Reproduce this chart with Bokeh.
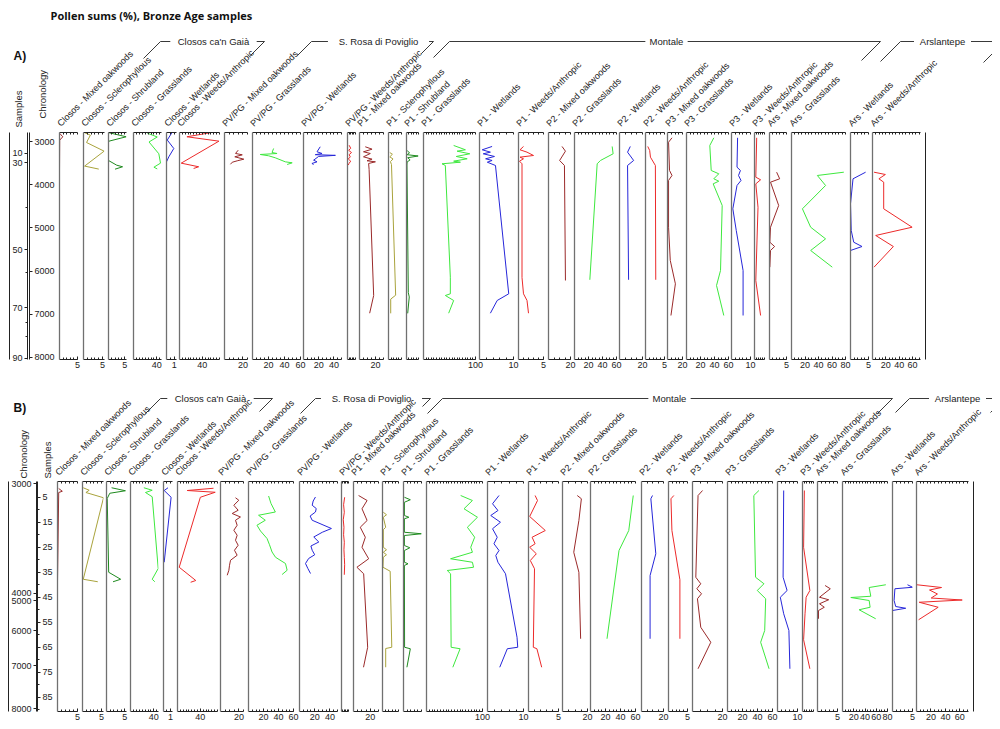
from bokeh.plotting import figure
from bokeh.models import Range1d, LinearAxis, FixedTicker, ColumnDataSource
from bokeh.layouts import column, row
from bokeh.embed import file_html
from bokeh.resources import INLINE
from bokeh.core.properties import value
import math

FONT = "Liberation Sans"
TITLE = "Pollen sums (%), Bronze Age samples"

TAXA = [
    "Closos - Mixed oakwoods", "Closos - Sclerophyllous", "Closos - Shrubland",
    "Closos - Grasslands", "Closos - Wetlands", "Closos - Weeds/Anthropic",
    "PV/PG - Mixed oakwoods", "PV/PG - Grasslands", "PV/PG - Wetlands", "PV/PG - Weeds/Anthropic",
    "P1 - Mixed oakwoods", "P1 - Sclerophyllous", "P1 - Shrubland", "P1 - Grasslands",
    "P1 - Wetlands", "P1 - Weeds/Anthropic",
    "P2 - Mixed oakwoods", "P2 - Grasslands", "P2 - Wetlands", "P2 - Weeds/Anthropic",
    "P3 - Mixed oakwoods", "P3 - Grasslands", "P3 - Wetlands", "P3 - Weeds/Anthropic",
    "Ars - Mixed oakwoods", "Ars - Grasslands", "Ars - Wetlands", "Ars - Weeds/Anthropic",
]
GROUPS = ["Closos ca'n Gaià", "S. Rosa di Poviglio", "Montale", "Arslantepe"]

# x-axis extent (%) and labelled ticks of every column
XMAX = [5, 5.5, 5.5, 48, 1.3, 70, 25, 60, 50, 10, 30, 10, 10, 100, 10, 5,
        20, 60, 20, 5, 20, 60, 10, 10, 5, 80, 5, 72]
XTICKS = [[5], [5], [5], [40], [1], [40], [20], [20, 40, 60], [20, 40], [], [20], [], [],
          [100], [10], [5], [20], [20, 40, 60], [20], [5], [20], [20, 40, 60], [10], [],
          [5], [20, 40, 60, 80], [5], [20, 40, 60]]
MINOR_STEP = [1, 1, 1, 5, 0.5, 5, 5, 5, 5, 2, 5, 2, 2, 5, 2, 1, 5, 5, 5, 1, 5, 5, 2, 2, 1, 5, 1, 5]

COLORS = {"Mixed oakwoods": "#9a2a2a", "Sclerophyllous": "#a9a33c", "Shrubland": "#1f8a1f",
          "Grasslands": "#3ee83e", "Wetlands": "#2626d9", "Weeds/Anthropic": "#ec2a2a"}

# ---------------- Panel A : values against chronology (years) ----------------
A_CLOSOS_MO_Y = [2808, 2885, 2963, 3640]
A_CLOSOS_MO_X = [0.1, 0.9, 0.05, 0.0]
A_CLOSOS_SC_Y = [2785, 2847, 3017, 3218, 3564, 3634]
A_CLOSOS_SC_X = [0.2, 1.8, 0.8, 5.4, 0.3, 4.0]
A_CLOSOS_SH_Y = [2790, 2884, 2986, 3000, 3434, 3543, 3580, 3636]
A_CLOSOS_SH_X = [0.15, 5.4, 0.15, 0.0, 0.0, 2.5, 4.3, 2.0]
A_CLOSOS_GR_Y = [2800, 2889, 3005, 3278, 3496, 3590, 3630]
A_CLOSOS_GR_X = [23.6, 40.7, 26.6, 43.4, 46.3, 35.0, 40.7]
A_CLOSOS_WE_Y = [2790, 2960, 3156, 3350, 3465]
A_CLOSOS_WE_X = [0.7, 0.1, 0.95, 0.3, 0.0]
A_CLOSOS_AN_Y = [2790, 2884, 2986, 3496, 3580, 3620]
A_CLOSOS_AN_X = [54, 13, 69, 3, 33.5, 24.7]

A_PVPG_MO_Y = [3195, 3271, 3303, 3349, 3404, 3442, 3475, 3522]
A_PVPG_MO_X = [14.9, 12.0, 19.3, 11.2, 21.0, 13.8, 8.4, 6.5]
A_PVPG_GR_Y = [3156, 3249, 3272, 3295, 3325, 3372, 3465, 3488, 3527]
A_PVPG_GR_X = [26.4, 24.4, 30.7, 9.7, 20.1, 28.5, 41.0, 49.6, 43.3]
A_PVPG_WE_Y = [3116, 3232, 3272, 3300, 3315, 3340, 3427, 3465, 3504, 3527]
A_PVPG_WE_X = [22, 17.8, 24.4, 15.5, 42, 19.9, 13.3, 17.8, 11.1, 13.3]
A_PVPG_AN_Y = [3080, 3150, 3200, 3250, 3300, 3350, 3400, 3450, 3500, 3540]
A_PVPG_AN_X = [2, 4, 1.5, 5, 2, 3.5, 1, 4, 2, 1]

A_P1_MO_Y = [3116, 3172, 3232, 3272, 3349, 3404, 3441, 3465, 3504, 3640, 6567, 6977]
A_P1_MO_X = [7.2, 15.7, 5.0, 13.5, 5.0, 15.7, 9.4, 19.9, 11.4, 12.0, 17.7, 12.7]
A_P1_SC_Y = [3250, 3290, 3350, 3400, 3460, 3530, 6560, 6650, 6980]
A_P1_SC_X = [1.0, 3.0, 1.0, 3.5, 1.5, 2.3, 5.5, 1.7, 1.7]
A_P1_SH_Y = [3200, 3260, 3300, 3330, 3370, 3420, 3470, 3540, 6500, 6600, 6980]
A_P1_SH_X = [0.5, 2.5, 0.5, 9.8, 1.0, 3.0, 0.5, 0.4, 1.5, 2.3, 1.0]
A_P1_GR_Y = [3086, 3186, 3218, 3279, 3341, 3395, 3450, 3474, 3511, 3550, 6142, 6527, 6566, 6682, 6977]
A_P1_GR_X = [58, 80.6, 64.6, 89, 63, 84, 58, 71, 35.6, 42, 51.6, 51.6, 42, 58, 48.4]
A_P1_WE_Y = [3109, 3186, 3241, 3279, 3341, 3395, 3434, 3474, 3550, 6527, 6682, 6977]
A_P1_WE_X = [3.7, 0.8, 3.2, 1.1, 4.4, 1.8, 3.7, 2.3, 4.7, 8.6, 5.2, 3.2]
A_P1_AN_Y = [3109, 3186, 3241, 3318, 3357, 3395, 3450, 3511, 6150, 6527, 6682, 6977]
A_P1_AN_X = [1.0, 0.3, 1.7, 3.0, 0.3, 1.0, 0.2, 0.7, 0.7, 1.0, 1.7, 2.0]

A_P2_MO_Y = [3109, 3218, 3434, 3550, 6218]
A_P2_MO_X = [12.3, 15.4, 10.1, 14.5, 15.4]
A_P2_GR_Y = [3109, 3279, 3434, 3511, 6202]
A_P2_GR_X = [53.8, 55.2, 37.1, 32.4, 21.9]
A_P2_WE_Y = [3109, 3241, 3434, 3550, 6202]
A_P2_WE_X = [9.4, 7.0, 12.3, 7.0, 7.9]
A_P2_AN_Y = [3109, 3202, 3357, 3550, 6202]
A_P2_AN_X = [0.6, 1.1, 1.3, 2.6, 2.7]

A_P3_MO_Y = [2908, 3010, 3666, 3782, 3898, 4982, 5754, 6295, 7030]
A_P3_MO_X = [6.0, 1.4, 2.7, 6.0, 1.4, 1.4, 3.7, 10.5, 4.6]
A_P3_GR_Y = [2908, 3086, 3666, 3743, 3859, 3915, 3976, 4478, 5986, 6334, 7030]
A_P3_GR_X = [39, 33.3, 35.3, 46.1, 39, 46.1, 38.1, 51, 48.6, 42.9, 53.3]
A_P3_WE_Y = [2908, 3590, 3666, 3782, 3898, 4014, 4555, 5058, 5986, 7030]
A_P3_WE_X = [3.2, 2.9, 4.7, 3.7, 5.0, 2.9, 0.7, 2.5, 6.1, 6.1]
A_P3_AN_Y = [2908, 3822, 3882, 3976, 4518, 6218, 7030]
A_P3_AN_X = [2.2, 1.3, 6.1, 1.3, 3.5, 1.3, 6.1]

A_ARS_MO_Y = [3706, 3859, 3937, 4478, 4982, 5330, 5430, 5522, 5909]
A_ARS_MO_X = [2.1, 3.0, 0.3, 2.7, 0.3, 0.1, 1.5, 0.3, 0.1]
A_ARS_GR_Y = [3706, 3782, 4014, 4555, 4982, 5252, 5522, 5909]
A_ARS_GR_X = [77.5, 38.3, 50.5, 16.2, 28.4, 50.5, 28.4, 60.4]
A_ARS_WE_Y = [3706, 3859, 4439, 5058, 5330, 5430, 5522]
A_ARS_WE_X = [4.2, 0.7, 0.0, 0.2, 0.9, 3.2, 0.0]
A_ARS_AN_Y = [3706, 3759, 3859, 3937, 4555, 4982, 5174, 5430, 5909]
A_ARS_AN_X = [2.3, 19.3, 9.6, 16.8, 16.8, 59.4, 4.8, 31.3, 2.3]

# ---------------- Panel B : values against sample number ----------------
B_CLOSOS_MO_Y = [1.5, 2.6, 3.1, 38.5]
B_CLOSOS_MO_X = [0.3, 1.2, 0.3, 0.0]
B_CLOSOS_SC_Y = [1.2, 2.2, 3.1, 5.2, 37.8, 38.8]
B_CLOSOS_SC_X = [0.2, 1.75, 0.9, 5.5, 0.2, 4.0]
B_CLOSOS_SH_Y = [1.2, 2.4, 3.4, 5.5, 35.0, 37.8, 38.8]
B_CLOSOS_SH_X = [1.4, 5.2, 0.9, 0.2, 0.6, 3.9, 1.8]
B_CLOSOS_GR_Y = [1.2, 2.2, 3.1, 4.8, 33.5, 37.8, 38.8]
B_CLOSOS_GR_X = [22.9, 37.2, 25.7, 37.2, 47.5, 37.2, 41.7]
B_CLOSOS_WE_Y = [1.2, 2.3, 5.0, 31.0]
B_CLOSOS_WE_X = [0.65, 0.1, 1.1, 0.1]
B_CLOSOS_AN_Y = [1.4, 2.3, 3.0, 5.0, 33.0, 38.3, 39.0]
B_CLOSOS_AN_X = [63, 17, 66, 40, 3, 32, 23]

B_PVPG_MO_Y = [5.2, 6.2, 8.2, 10.2, 11.5, 12.9, 14.2, 16.2, 18.2, 20.2, 22.2, 24.2, 26.2, 28.2,
               30.2, 32.2, 34.2, 36.2]
B_PVPG_MO_X = [16.3, 19.9, 14.5, 19.2, 12.7, 21.7, 16.3, 18.1, 14.5, 18.1, 16.3, 19.2, 15.2, 18.1,
               10.9, 9.8, 9.1, 7.3]
B_PVPG_GR_Y = [4.5, 7.5, 10.9, 12.2, 14.2, 16.2, 18.5, 21.5, 24.0, 26.9, 29.0, 31.5, 34.2, 35.9]
B_PVPG_GR_X = [26.8, 30.0, 35.8, 13.4, 22.4, 11.3, 16.0, 24.7, 28.0, 31.4, 36.0, 49.3, 51.5, 44.8]
B_PVPG_WE_Y = [4.9, 6.5, 8.2, 9.5, 10.9, 12.5, 14.2, 17.5, 19.0, 20.9, 22.9, 24.5, 26.2, 28.0,
               29.5, 31.5, 33.5, 35.5]
B_PVPG_WE_X = [21, 18, 16.7, 22, 21, 14, 16.7, 42, 30, 18.8, 25.4, 15, 16.7, 20, 12, 7.9, 11, 14.5]
B_PVPG_AN_Y = [5, 8, 11, 14, 17, 20, 23, 26, 29, 32, 36]
B_PVPG_AN_X = [4.5, 3.0, 4.0, 2.5, 3.5, 3.0, 4.0, 3.5, 4.0, 4.5, 4.0]

B_P1_MO_Y = [4.3, 6.3, 9.6, 14.3, 17.0, 21.0, 25.0, 29.6, 33.0, 35.6, 65.0, 73.0]
B_P1_MO_X = [6.1, 16.3, 10.2, 16.3, 8.1, 14.2, 10.2, 18.2, 4.1, 12.2, 17.0, 12.0]
B_P1_SC_Y = [11, 12, 13, 17, 18, 25, 26, 27, 28, 29, 33, 34.6, 65, 65.5, 73]
B_P1_SC_X = [0.5, 2.5, 0.5, 2, 0.5, 0.5, 2.5, 0.5, 2.5, 0.5, 0.3, 4.8, 5.8, 2.0, 2.0]
B_P1_SH_Y = [5.0, 6.0, 7.0, 12.3, 13.0, 13.6, 19.0, 19.6, 20.3, 24.3, 25.2, 26.3, 31.0, 31.6,
             32.3, 65.0, 65.6, 73.0]
B_P1_SH_X = [0.5, 3.8, 0.5, 0.5, 3.0, 0.5, 0.5, 10.0, 0.5, 0.5, 3.5, 0.5, 0.5, 2.5, 0.5, 0.6,
             3.8, 1.9]
B_P1_GR_Y = [4.3, 6.3, 9.6, 13.0, 17.0, 21.0, 25.0, 27.0, 29.6, 31.0, 33.0, 34.3, 35.6, 65.0,
             65.6, 73.0]
B_P1_GR_X = [61, 82, 67, 91, 73, 86, 79, 82, 43, 82, 84, 37, 43, 44, 60, 47]
B_P1_WE_Y = [4.3, 7.6, 10.3, 12.3, 15.0, 17.6, 21.0, 23.6, 26.3, 28.3, 31.0, 35.6, 61.0, 65.0,
             65.6, 73.0]
B_P1_WE_X = [3.2, 1.4, 2.9, 0.9, 3.6, 1.4, 2.7, 1.8, 3.2, 2.3, 2.9, 5.0, 8.2, 8.4, 5.5, 3.4]
B_P1_AN_Y = [4.3, 6.3, 12.7, 18.3, 21.0, 23.6, 25.0, 27.6, 30.3, 33.6, 65.0, 65.6, 73.0]
B_P1_AN_X = [1.1, 1.5, 0.2, 2.8, 0.6, 1.1, 0.2, 1.3, 0.3, 1.0, 0.8, 1.4, 2.2]

B_P2_MO_Y = [4.3, 5.6, 14.3, 27.0, 35.0, 61.6]
B_P2_MO_X = [11.8, 15.1, 13.1, 9.0, 13.1, 14.5]
B_P2_GR_Y = [4.3, 18.3, 26.3, 61.6]
B_P2_GR_X = [57, 51, 38, 22]
B_P2_WE_Y = [4.3, 5.6, 27.6, 36.3, 61.6]
B_P2_WE_X = [10.0, 8.5, 13.0, 7.8, 7.8]
B_P2_AN_Y = [4.3, 5.6, 18.3, 38.0, 61.6]
B_P2_AN_X = [1.4, 0.65, 0.9, 3.0, 3.0]

B_P3_MO_Y = [2.3, 4.3, 37.0, 39.6, 41.6, 43.6, 45.6, 57.0, 63.0, 73.6]
B_P3_MO_X = [6.7, 3.7, 2.2, 5.5, 2.9, 6.0, 3.3, 5.5, 12.2, 3.7]
B_P3_GR_Y = [2.3, 4.3, 37.0, 39.6, 42.3, 45.6, 58.3, 63.0, 73.6]
B_P3_GR_X = [41.9, 35.1, 37.4, 48.6, 39.7, 50.9, 49.6, 44.2, 55.4]
B_P3_WE_Y = [2.3, 37.0, 42.3, 45.0, 51.6, 58.3, 73.6]
B_P3_WE_X = [3.1, 2.8, 4.8, 1.4, 3.1, 5.7, 6.2]
B_P3_AN_Y = [2.3, 25.0, 42.3, 45.0, 51.6, 62.0, 73.6]
B_P3_AN_X = [1.7, 1.0, 6.7, 3.3, 2.3, 1.0, 6.7]

B_ARS_MO_Y = [40.3, 41.6, 45.0, 46.0, 47.6, 49.0, 50.3, 53.6]
B_ARS_MO_X = [1.9, 3.2, 0.5, 2.8, 0.5, 1.7, 0.25, 0.25]
B_ARS_GR_Y = [40.0, 41.1, 44.6, 45.1, 46.3, 49.0, 50.0, 53.6]
B_ARS_GR_X = [77, 47.4, 50.3, 14.8, 47.4, 49.1, 29.5, 59]
B_ARS_WE_Y = [40.0, 41.0, 41.6, 46.3, 48.7, 49.4, 50.3, 53.6]
B_ARS_WE_X = [3.75, 5.0, 0.6, 0.4, 0.8, 3.3, 0.0, 0.0]
B_ARS_AN_Y = [40.0, 41.1, 42.1, 43.7, 45.3, 46.1, 47.0, 49.0, 54.0]
B_ARS_AN_X = [0.4, 34.7, 18.0, 29.0, 20.4, 63.3, 3.7, 30.0, 2.9]

# left axes
A_CHRONO_TICKS = [3000, 4000, 5000, 6000, 7000, 8000]
A_SAMPLE_LABELS = ["10", "30", "50", "70", "90"]
A_SAMPLE_AT_AGE = [3265, 3490, 5510, 6850, 8020]
A_SAMPLE_MINOR_AT_AGE = [4525, 6026, 7186, 7518]
B_SAMPLE_TICKS = [5, 15, 25, 35, 45, 55, 65, 75, 85]
B_SAMPLE_MINOR = [10, 20, 30, 40, 50, 60, 70, 80, 90]
B_CHRONO_LABELS = ["3000", "4000", "5000", "6000", "7000", "8000"]
B_CHRONO_AT_SAMPLE = [-0.35, 43.4, 46.3, 58.3, 72.3, 89.6]

# ---------------- layout (page pixels) ----------------
A_LEFT = [59, 83, 108, 133, 166, 179, 224, 252, 303, 347, 359, 388, 406, 423, 479, 518,
          548, 574, 619, 645, 667, 686, 731, 754, 769, 791, 850, 872]
A_RIGHT = [77, 104, 126, 161, 176, 219, 247, 300, 341, 355, 383, 401, 418, 475, 513, 543,
           570, 616, 642, 664, 682, 728, 750, 764, 786, 845, 868, 920]
A_END = 925
B_LEFT = [57, 82, 106, 130, 163, 177, 220, 248, 299, 341, 353, 382, 403, 426, 487, 528,
          562, 590, 641, 668, 692, 727, 777, 802, 817, 842, 892, 916]
B_RIGHT = [77, 103, 126, 158, 172, 217, 243, 293, 337, 348, 378, 398, 421, 482, 523, 558,
           587, 635, 663, 687, 722, 772, 797, 813, 837, 887, 912, 968]
B_END = 973

A_YRANGE = (8051, 2785)
B_YRANGE = (90.7, -1.3)

A_BRACKET_L = [(143, 58), (297, 55), (433, 57), (880, 61)]
A_BRACKET_R = [(250, 55), (421, 53), (861, 60), (983, 62)]
A_GROUP_X = [213, 378, 666, 942]
A_GROUP_Y = 41
B_BRACKET_L = [(145, 413), (300, 413), (427, 413), (895, 412)]
B_BRACKET_R = [(259, 411), (422, 406), (877, 413), (990, 412)]
B_GROUP_X = [210, 371, 669, 957]
B_GROUP_Y = 398

PL, PR = 2, 12
PAGE_W = 984

SERIES_A = [
    (A_CLOSOS_MO_X, A_CLOSOS_MO_Y), (A_CLOSOS_SC_X, A_CLOSOS_SC_Y), (A_CLOSOS_SH_X, A_CLOSOS_SH_Y),
    (A_CLOSOS_GR_X, A_CLOSOS_GR_Y), (A_CLOSOS_WE_X, A_CLOSOS_WE_Y), (A_CLOSOS_AN_X, A_CLOSOS_AN_Y),
    (A_PVPG_MO_X, A_PVPG_MO_Y), (A_PVPG_GR_X, A_PVPG_GR_Y), (A_PVPG_WE_X, A_PVPG_WE_Y),
    (A_PVPG_AN_X, A_PVPG_AN_Y),
    (A_P1_MO_X, A_P1_MO_Y), (A_P1_SC_X, A_P1_SC_Y), (A_P1_SH_X, A_P1_SH_Y), (A_P1_GR_X, A_P1_GR_Y),
    (A_P1_WE_X, A_P1_WE_Y), (A_P1_AN_X, A_P1_AN_Y),
    (A_P2_MO_X, A_P2_MO_Y), (A_P2_GR_X, A_P2_GR_Y), (A_P2_WE_X, A_P2_WE_Y), (A_P2_AN_X, A_P2_AN_Y),
    (A_P3_MO_X, A_P3_MO_Y), (A_P3_GR_X, A_P3_GR_Y), (A_P3_WE_X, A_P3_WE_Y), (A_P3_AN_X, A_P3_AN_Y),
    (A_ARS_MO_X, A_ARS_MO_Y), (A_ARS_GR_X, A_ARS_GR_Y), (A_ARS_WE_X, A_ARS_WE_Y),
    (A_ARS_AN_X, A_ARS_AN_Y),
]
SERIES_B = [
    (B_CLOSOS_MO_X, B_CLOSOS_MO_Y), (B_CLOSOS_SC_X, B_CLOSOS_SC_Y), (B_CLOSOS_SH_X, B_CLOSOS_SH_Y),
    (B_CLOSOS_GR_X, B_CLOSOS_GR_Y), (B_CLOSOS_WE_X, B_CLOSOS_WE_Y), (B_CLOSOS_AN_X, B_CLOSOS_AN_Y),
    (B_PVPG_MO_X, B_PVPG_MO_Y), (B_PVPG_GR_X, B_PVPG_GR_Y), (B_PVPG_WE_X, B_PVPG_WE_Y),
    (B_PVPG_AN_X, B_PVPG_AN_Y),
    (B_P1_MO_X, B_P1_MO_Y), (B_P1_SC_X, B_P1_SC_Y), (B_P1_SH_X, B_P1_SH_Y), (B_P1_GR_X, B_P1_GR_Y),
    (B_P1_WE_X, B_P1_WE_Y), (B_P1_AN_X, B_P1_AN_Y),
    (B_P2_MO_X, B_P2_MO_Y), (B_P2_GR_X, B_P2_GR_Y), (B_P2_WE_X, B_P2_WE_Y), (B_P2_AN_X, B_P2_AN_Y),
    (B_P3_MO_X, B_P3_MO_Y), (B_P3_GR_X, B_P3_GR_Y), (B_P3_WE_X, B_P3_WE_Y), (B_P3_AN_X, B_P3_AN_Y),
    (B_ARS_MO_X, B_ARS_MO_Y), (B_ARS_GR_X, B_ARS_GR_Y), (B_ARS_WE_X, B_ARS_WE_Y),
    (B_ARS_AN_X, B_ARS_AN_Y),
]

TICK_FONT_SIZE = "9px"
LINE_GREY = "#707070"
INK = "#222222"


def base_fig(width, height, xr, yr, bl, br, bt, bb, margin_r=0, **kw):
    p = figure(width=width, height=height, x_range=xr, y_range=yr,
               x_axis_location=None, y_axis_location=None, toolbar_location=None,
               output_backend="svg", min_border_left=bl, min_border_right=br,
               min_border_top=bt, min_border_bottom=bb, outline_line_color=None,
               background_fill_color=None, border_fill_color=None,
               margin=(0, margin_r, 0, 0), **kw)
    p.grid.visible = False
    return p


def blank_axis(color=LINE_GREY, width=1.3):
    return LinearAxis(ticker=FixedTicker(ticks=[]), major_tick_in=0, major_tick_out=0,
                      minor_tick_in=0, minor_tick_out=0, major_label_standoff=0,
                      major_label_text_font_size="0px", axis_line_color=color,
                      axis_line_width=width)


def minor_list(xmax, step):
    out = []
    k = 1
    while k * step <= xmax + 1e-9:
        out.append(round(k * step, 4))
        k += 1
    return out


def column_fig(i, lefts, rights, next_left, yr, height, bt, bb, series):
    left, right = lefts[i], rights[i]
    fw = right - left
    w = fw + PL + PR
    margin_r = next_left - right - PL - PR
    p = base_fig(w, height, Range1d(0, XMAX[i]), Range1d(*yr), PL, PR, bt, bb, margin_r)
    minors = minor_list(XMAX[i], MINOR_STEP[i])
    p.add_layout(blank_axis(), "left")
    top = LinearAxis(ticker=FixedTicker(ticks=[], minor_ticks=minors), major_tick_in=0,
                     major_tick_out=0, minor_tick_in=2, minor_tick_out=0, major_label_standoff=0,
                     major_label_text_font_size="0px", axis_line_color=INK,
                     minor_tick_line_color=INK)
    p.add_layout(top, "above")
    bot = LinearAxis(ticker=FixedTicker(ticks=XTICKS[i], minor_ticks=minors), major_tick_in=3,
                     major_tick_out=0, minor_tick_in=2, minor_tick_out=0, major_label_standoff=2,
                     major_label_text_font=FONT, major_label_text_font_size=TICK_FONT_SIZE,
                     major_label_text_color=INK, axis_line_color=INK,
                     major_tick_line_color=INK, minor_tick_line_color=INK)
    p.add_layout(bot, "below")
    xs, ys = series[i]
    kind = TAXA[i].split(" - ", 1)[1]
    p.line(x=xs, y=ys, line_color=COLORS[kind], line_width=1.0)
    return p


def end_fig(end_x, yr, height, bt, bb):
    p = base_fig(PL + 3, height, Range1d(0, 1), Range1d(*yr), PL, 0, bt, bb)
    p.add_layout(blank_axis(INK, 1.0), "left")
    return p


def axis_style(ax):
    ax.major_label_text_font = FONT
    ax.major_label_text_font_size = TICK_FONT_SIZE
    ax.major_label_text_color = INK
    ax.axis_line_color = INK
    ax.major_tick_line_color = INK
    ax.minor_tick_line_color = INK
    ax.major_tick_in = 0
    ax.major_tick_out = 3
    ax.minor_tick_in = 0
    ax.minor_tick_out = 2
    ax.major_label_standoff = 2
    return ax


def axes_fig_A(height, bt, bb):
    width = A_LEFT[0] - PL - 8
    p = base_fig(width, height, Range1d(0, 1), Range1d(*A_YRANGE), 19, width - 21, bt, bb)
    samp = axis_style(LinearAxis(
        ticker=FixedTicker(ticks=A_SAMPLE_AT_AGE, minor_ticks=A_SAMPLE_MINOR_AT_AGE),
        major_label_overrides={a: s for a, s in zip(A_SAMPLE_AT_AGE, A_SAMPLE_LABELS)}))
    p.add_layout(samp, "left")
    p.add_layout(blank_axis(INK, 1.0), "left")
    chrono = axis_style(LinearAxis(ticker=FixedTicker(ticks=A_CHRONO_TICKS, minor_ticks=[])))
    p.add_layout(chrono, "right")
    return p


def axes_fig_B(height, bt, bb):
    width = B_LEFT[0] - PL - 8
    p = base_fig(width, height, Range1d(0, 1), Range1d(*B_YRANGE), 28, width - 30, bt, bb)
    chrono = axis_style(LinearAxis(
        ticker=FixedTicker(ticks=B_CHRONO_AT_SAMPLE, minor_ticks=[]),
        major_label_overrides={a: s for a, s in zip(B_CHRONO_AT_SAMPLE, B_CHRONO_LABELS)}))
    p.add_layout(chrono, "left")
    p.add_layout(blank_axis(INK, 1.0), "left")
    samp = axis_style(LinearAxis(ticker=FixedTicker(ticks=B_SAMPLE_TICKS, minor_ticks=B_SAMPLE_MINOR)))
    p.add_layout(samp, "right")
    return p


def header_fig(top, bottom, lefts, letter, letter_y, bl, br, gx, gy, axis_titles, title=False):
    H = bottom - top
    p = figure(width=PAGE_W, height=H, x_range=Range1d(0, PAGE_W), y_range=Range1d(0, H),
               x_axis_location=None, y_axis_location=None, toolbar_location=None,
               output_backend="svg", min_border=0, outline_line_color=None)
    p.grid.visible = False
    X = lambda px: px - 8
    Y = lambda py: bottom - py
    # rotated column labels
    src = ColumnDataSource(dict(x=[X(l + 3) for l in lefts], y=[Y(bottom - 3)] * len(lefts),
                                text=TAXA))
    p.text(x="x", y="y", text="text", source=src, angle=math.pi / 4, text_align="left",
           text_baseline="bottom", text_font=value(FONT), text_font_size=value("9px"),
           text_color=INK)
    # group brackets
    xs, ys = [], []
    for k, name in enumerate(GROUPS):
        (xl, yl), (xr, yr) = bl[k], br[k]
        half = len(name) * 2.45 + 4
        xs.append([X(xl), X(xl + (yl - gy)), X(gx[k] - half)])
        ys.append([Y(yl), Y(gy), Y(gy)])
        xs.append([X(gx[k] + half), X(xr + (yr - gy)), X(xr)])
        ys.append([Y(gy), Y(gy), Y(yr)])
    p.multi_line(xs=xs, ys=ys, line_color=INK, line_width=0.9)
    p.text(x=[X(v) for v in gx], y=[Y(gy)] * len(gx), text=GROUPS, text_align="center",
           text_baseline="middle", text_font=value(FONT), text_font_size=value("9.5px"),
           text_color=INK)
    # panel letter
    p.text(x=[X(13)], y=[Y(letter_y)], text=[letter], text_align="left", text_baseline="middle",
           text_font=value(FONT), text_font_size=value("12px"), text_font_style="bold",
           text_color="#111111")
    # vertical axis titles
    (t1, x1, y1), (t2, x2, y2) = axis_titles
    p.text(x=[X(x1), X(x2)], y=[Y(y1), Y(y2)], text=[t1, t2], angle=math.pi / 2,
           text_align="left", text_baseline="middle", text_font=value(FONT),
           text_font_size=value("9.5px"), text_color=INK)
    if title:
        p.text(x=[X(50)], y=[Y(15)], text=[TITLE], text_align="left", text_baseline="middle",
               text_font=value("Open Sans"), text_font_size=value("11px"),
               text_font_style="bold", text_color="#111111")
    return p


def panel_row(lefts, rights, end_x, yr, height, bt, bb, series, axes_fig):
    kids = [axes_fig]
    for i in range(len(TAXA)):
        nxt = lefts[i + 1] if i + 1 < len(TAXA) else end_x
        kids.append(column_fig(i, lefts, rights, nxt, yr, height, bt, bb, series))
    kids.append(end_fig(end_x, yr, height, bt, bb))
    return row(*kids, spacing=0)


# panel A: header 8..131, columns frame 132..359
hA = header_fig(8, 131, A_LEFT, "A)", 55, A_BRACKET_L, A_BRACKET_R, A_GROUP_X, A_GROUP_Y,
                [("Samples", 17.5, 127), ("Chronology", 41.5, 118)], title=True)
rA = panel_row(A_LEFT, A_RIGHT, A_END, A_YRANGE, 245, 1, 17, SERIES_A, axes_fig_A(245, 1, 17))
# panel B: header 376..480, columns frame 481..711
hB = header_fig(376, 480, B_LEFT, "B)", 407, B_BRACKET_L, B_BRACKET_R, B_GROUP_X, B_GROUP_Y,
                [("Chronology", 22.5, 478), ("Samples", 46.5, 478)])
rB = panel_row(B_LEFT, B_RIGHT, B_END, B_YRANGE, 247, 1, 16, SERIES_B, axes_fig_B(247, 1, 16))

page = column(hA, rA, hB, rB, spacing=0, margin=(8, 0, 0, 8))
open("out.html", "w").write(file_html(page, INLINE))
